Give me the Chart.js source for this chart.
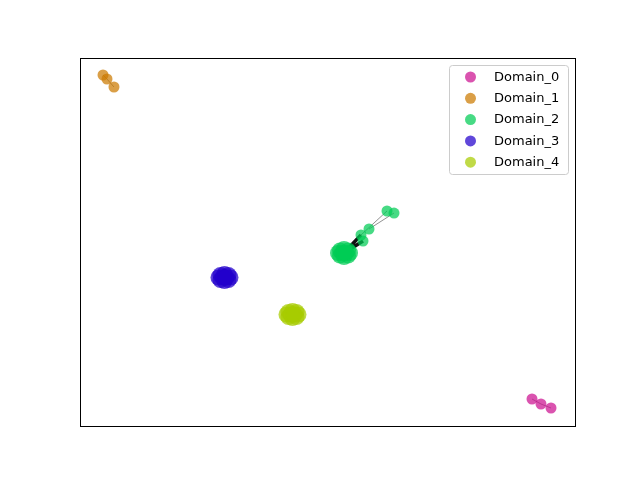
<!DOCTYPE html>
<html>
<head>
<meta charset="utf-8">
<script src="https://cdn.jsdelivr.net/npm/chart.js@4.4.0/dist/chart.umd.min.js"></script>
<style>
  html, body { margin: 0; padding: 0; background: #fff; }
  #wrap { width: 640px; height: 480px; }
</style>
</head>
<body>
<div id="wrap"><canvas id="embedChart" width="640" height="480"></canvas></div>
<script>
const domainNames = ['Domain_0', 'Domain_1', 'Domain_2', 'Domain_3', 'Domain_4'];
const domainColors = ['#cc1190', '#cc7a00', '#00cc55', '#2200cc', '#a8cc00'];

// embedding coordinates (0..100 on both axes)
const domain0X = [91.13, 92.94, 94.96];
const domain0Y = [7.59, 6.23, 5.15];

const domain1X = [4.64, 5.44, 6.85];
const domain1Y = [95.39, 94.31, 92.14];

// first 11 points = dense core, last 5 = the strand towards upper right
const domain2X = [53.23, 52.02, 54.44, 52.42, 54.04, 52.42, 54.04, 53.23, 53.23, 52.83, 53.63,
                  61.90, 63.31, 58.27, 56.65, 57.06];
const domain2Y = [47.15, 47.15, 47.15, 47.83, 47.83, 46.47, 46.47, 48.23, 46.07, 47.15, 47.15,
                  58.54, 57.99, 53.66, 52.03, 50.41];
const domain2Core = 11;

const domain3X = [29.13, 27.92, 30.34, 28.32, 29.94, 28.32, 29.94, 29.13, 29.13, 28.73, 29.53];
const domain3Y = [40.51, 40.51, 40.51, 41.19, 41.19, 39.83, 39.83, 41.46, 39.56, 40.51, 40.51];

const domain4X = [42.84, 41.63, 44.05, 42.03, 43.65, 42.03, 43.65, 42.84, 42.84, 42.44, 43.24];
const domain4Y = [30.49, 30.49, 30.49, 31.17, 31.17, 29.81, 29.81, 31.44, 29.54, 30.49, 30.49];

const domainXs = [domain0X, domain1X, domain2X, domain3X, domain4X];
const domainYs = [domain0Y, domain1Y, domain2Y, domain3Y, domain4Y];
const coreCounts = [0, 0, domain2Core, domain3X.length, domain4X.length];

// edges: [domain, pointIndex, domain, pointIndex]
const lightEdges = [
  [0, 0, 0, 1], [0, 1, 0, 2],
  [1, 0, 1, 1], [1, 1, 1, 2],
  [2, 14, 2, 11], [2, 13, 2, 12]
];
const heavyEdges = [
  [2, 0, 2, 14], [2, 0, 2, 15]
];

function pt(d, i) {
  return { x: domainXs[d][i], y: domainYs[d][i] };
}

function edgeData(list) {
  const out = [];
  list.forEach(e => {
    out.push(pt(e[0], e[1]));
    out.push(pt(e[2], e[3]));
    out.push({ x: null, y: null });
  });
  return out;
}

function hexAlpha(hex, a) {
  const n = parseInt(hex.slice(1), 16);
  return `rgba(${(n >> 16) & 255}, ${(n >> 8) & 255}, ${n & 255}, ${a})`;
}

const pointSets = domainNames.map((name, d) => ({
  type: 'scatter',
  label: name,
  data: domainXs[d].map((x, i) => ({ x: x, y: domainYs[d][i] })),
  backgroundColor: hexAlpha(domainColors[d], 0.72),
  borderWidth: 0,
  pointRadius: domainXs[d].map((x, i) => (i < coreCounts[d] ? 8 : 5.5)),
  order: 1
}));

const edgeSets = [
  {
    type: 'line',
    label: '_edges',
    data: edgeData(lightEdges),
    borderColor: 'rgba(110, 110, 110, 0.75)',
    borderWidth: 1,
    pointRadius: 0,
    spanGaps: false,
    order: 5
  },
  {
    type: 'line',
    label: '_edges_heavy',
    data: edgeData(heavyEdges),
    borderColor: '#111111',
    borderWidth: 3.5,
    pointRadius: 0,
    spanGaps: false,
    order: 4
  }
];

// matplotlib-like frame + legend box
const frameLegendPlugin = {
  id: 'frameLegend',
  afterDraw: (chart) => {
    const ctx = chart.ctx;
    const a = chart.chartArea;
    ctx.save();
    ctx.strokeStyle = '#000';
    ctx.lineWidth = 1;
    ctx.strokeRect(a.left + 0.5, a.top + 0.5, a.right - a.left - 1, a.bottom - a.top - 1);

    const bx = a.right - 126.5, by = a.top + 7.5, bw = 119, bh = 109;
    ctx.beginPath();
    ctx.roundRect(bx, by, bw, bh, 3);
    ctx.fillStyle = 'rgba(255,255,255,0.8)';
    ctx.fill();
    ctx.strokeStyle = '#cccccc';
    ctx.stroke();

    ctx.font = '13px "DejaVu Sans", sans-serif';
    ctx.textAlign = 'left';
    ctx.textBaseline = 'middle';
    domainNames.forEach((name, i) => {
      const y = by + 11.5 + i * 21.3;
      ctx.beginPath();
      ctx.arc(bx + 21, y, 5.5, 0, Math.PI * 2);
      ctx.fillStyle = hexAlpha(domainColors[i], 0.72);
      ctx.fill();
      ctx.fillStyle = '#000';
      ctx.fillText(name, bx + 44.5, y + 0.5);
    });
    ctx.restore();
  }
};

window.addEventListener('DOMContentLoaded', () => {
  const ctx = document.getElementById('embedChart').getContext('2d');
  new Chart(ctx, {
    type: 'scatter',
    data: { datasets: pointSets.concat(edgeSets) },
    options: {
      responsive: false,
      animation: false,
      layout: { padding: { left: 80, right: 64, top: 58, bottom: 53 } },
      plugins: {
        legend: { display: false },
        tooltip: { enabled: false }
      },
      scales: {
        x: { type: 'linear', min: 0, max: 100, display: false },
        y: { type: 'linear', min: 0, max: 100, display: false }
      }
    },
    plugins: [frameLegendPlugin]
  });
});
</script>
</body>
</html>
